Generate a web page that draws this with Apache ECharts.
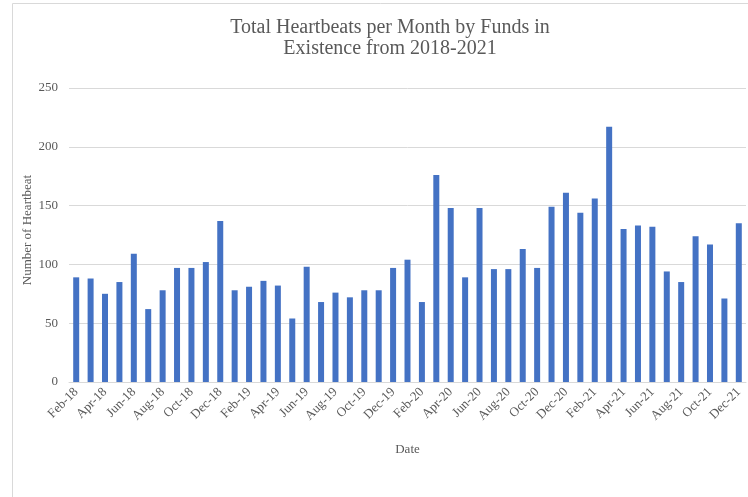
<!DOCTYPE html>
<html>
<head>
<meta charset="utf-8">
<script src="https://cdn.jsdelivr.net/npm/echarts@6/dist/echarts.min.js"></script>
<style>
html,body{margin:0;padding:0;background:#fff;}
#c{width:748px;height:497px;}
</style>
</head>
<body>
<div id="c"></div>
<script>
const categories = [
  "Feb-18","Mar-18","Apr-18","May-18","Jun-18","Jul-18","Aug-18","Sep-18","Oct-18","Nov-18","Dec-18",
  "Jan-19","Feb-19","Mar-19","Apr-19","May-19","Jun-19","Jul-19","Aug-19","Sep-19","Oct-19","Nov-19","Dec-19",
  "Jan-20","Feb-20","Mar-20","Apr-20","May-20","Jun-20","Jul-20","Aug-20","Sep-20","Oct-20","Nov-20","Dec-20",
  "Jan-21","Feb-21","Mar-21","Apr-21","May-21","Jun-21","Jul-21","Aug-21","Sep-21","Oct-21","Nov-21","Dec-21"
];
const heartbeats = [
  89, 88, 75, 85, 109, 62, 78, 97, 97, 102, 137,
  78, 81, 86, 82, 54, 98, 68, 76, 72, 78, 78, 97,
  104, 68, 176, 148, 89, 148, 96, 96, 113, 97, 149, 161,
  144, 156, 217, 130, 133, 132, 94, 85, 124, 117, 71, 135
];
const yTicks = { min: 0, max: 250, interval: 50 };
const titleText = "Total Heartbeats per Month by Funds in\nExistence from 2018-2021";
const xName = "Date";
const yName = "Number of Heartbeat";

const FONT = "'Liberation Serif', 'Times New Roman', serif";
const chart = echarts.init(document.getElementById('c'), null, {renderer: 'canvas'});
chart.setOption({
  animation: false,
  graphic: [{
    type: 'rect', z: -10, silent: true,
    shape: {x: 12.5, y: 3.5, width: 800, height: 600},
    style: {fill: 'none', stroke: '#d9d9d9', lineWidth: 1}
  }],
  title: {
    text: titleText,
    left: 385, top: 12, textAlign: 'center',
    textStyle: {fontFamily: FONT, fontSize: 20, fontWeight: 'normal', color: '#595959', lineHeight: 21}
  },
  grid: {left: 69, right: 2, top: 88, bottom: 115, containLabel: false},
  xAxis: {
    type: 'category',
    data: categories,
    name: xName,
    nameLocation: 'middle',
    nameGap: 61,
    nameMoveOverlap: false,
    nameTextStyle: {fontFamily: FONT, fontSize: 13, color: '#595959'},
    axisLine: {lineStyle: {color: '#d9d9d9', width: 1}},
    axisTick: {show: false},
    axisLabel: {
      interval: 1, rotate: 45, margin: 8,
      fontFamily: FONT, fontSize: 13, color: '#595959'
    }
  },
  yAxis: {
    type: 'value',
    min: yTicks.min, max: yTicks.max, interval: yTicks.interval,
    name: yName,
    nameLocation: 'middle',
    nameGap: 35,
    nameMoveOverlap: false,
    nameTextStyle: {fontFamily: FONT, fontSize: 13, color: '#595959', padding: [0, 0, 0, 10]},
    axisLine: {show: false},
    axisTick: {show: false},
    axisLabel: {margin: 11, fontFamily: FONT, fontSize: 13, color: '#595959'},
    splitLine: {lineStyle: {color: '#d9d9d9', width: 1}}
  },
  series: [{
    type: 'bar',
    data: heartbeats,
    barWidth: 6,
    itemStyle: {color: '#4472C4'}
  }]
});
</script>
</body>
</html>
